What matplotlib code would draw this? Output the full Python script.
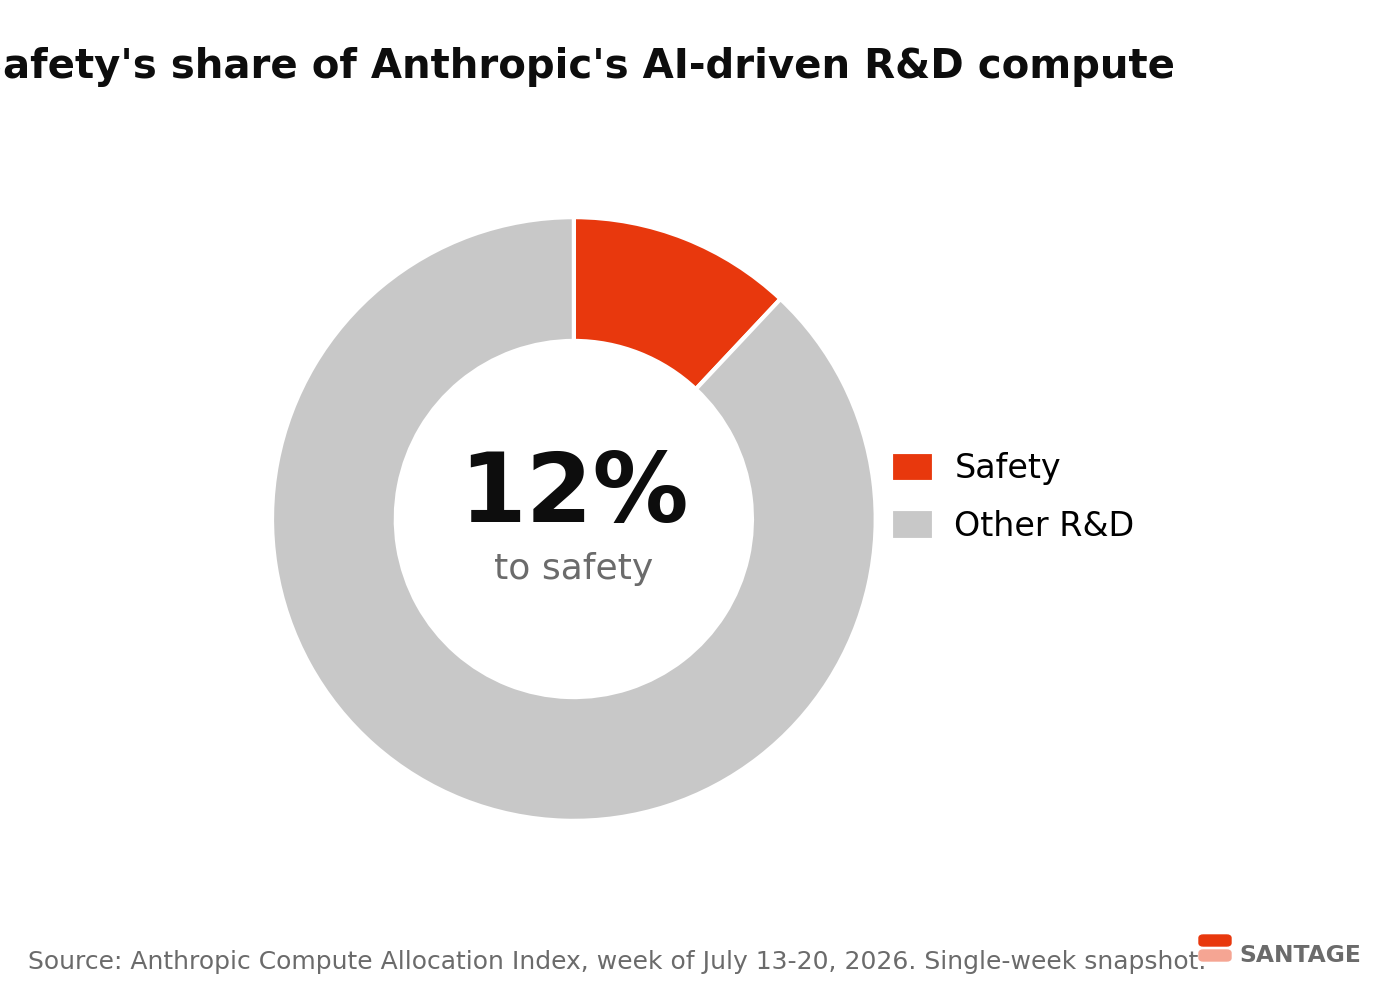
import matplotlib.pyplot as plt
from matplotlib.patches import FancyBboxPatch

labels = ["Safety", "Other R&D"]
shares = [12, 88]
colors = ["#E8380D", "#C8C8C8"]

title = "Safety's share of Anthropic's AI-driven R&D compute"
center_big = "12%"
center_small = "to safety"
source = "Source: Anthropic Compute Allocation Index, week of July 13-20, 2026. Single-week snapshot."
brand = "SANTAGE"

fig = plt.figure(figsize=(14, 10), dpi=100)
ax = fig.add_axes([0.1404, 0.1035, 0.539, 0.755])

wedges, _ = ax.pie(shares, colors=colors, startangle=90, counterclock=False,
                   wedgeprops=dict(width=0.41, edgecolor="white", linewidth=3))
ax.set_aspect("equal")

ax.text(0, 0.077, center_big, ha="center", va="center", fontsize=69,
        fontweight="bold", color="#0d0d0d")
ax.text(0, -0.167, center_small, ha="center", va="center", fontsize=26,
        color="#6b6b6b")

# title is centred on the donut, so it runs off the left edge like the original
fig.text(574 / 1400, 0.933, title, ha="center", va="center", fontsize=29,
         fontweight="bold", color="#0d0d0d")

fig.legend(wedges, labels, loc="center left", bbox_to_anchor=(0.615, 0.503),
           frameon=False, fontsize=24, handlelength=1.3, handleheight=1.05,
           handletextpad=0.6, labelspacing=0.7)

fig.text(0.02, 0.038, source, ha="left", va="center", fontsize=18, color="#6b6b6b")

# little brand mark
fig.patches.append(FancyBboxPatch((1199 / 1400, 0.054), 32 / 1400, 0.011,
                                  boxstyle="round,pad=0,rounding_size=0.003",
                                  transform=fig.transFigure, color="#E8380D"))
fig.patches.append(FancyBboxPatch((1199 / 1400, 0.039), 32 / 1400, 0.011,
                                  boxstyle="round,pad=0,rounding_size=0.003",
                                  transform=fig.transFigure, color="#F5A593"))
fig.text(1239 / 1400, 0.044, brand, ha="left", va="center", fontsize=16.8,
         fontweight="bold", color="#6b6b6b")

fig.savefig("out.png", dpi=100)
